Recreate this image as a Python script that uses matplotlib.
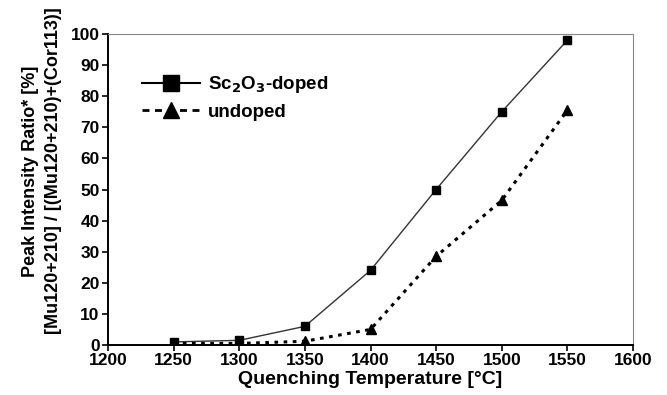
import matplotlib.pyplot as plt
from matplotlib.lines import Line2D

plt.rcParams['font.family'] = ['Liberation Sans', 'DejaVu Sans']
plt.rcParams['font.weight'] = 'bold'

#Data
temps = [1250, 1300, 1350, 1400, 1450, 1500, 1550]
sc_doped = [1.0, 1.5, 6.0, 24.0, 50.0, 75.0, 98.0]
undoped = [0.5, 0.5, 1.2, 5.0, 28.5, 46.5, 75.5]
xticks = [1200, 1250, 1300, 1350, 1400, 1450, 1500, 1550, 1600]
yticks = [0, 10, 20, 30, 40, 50, 60, 70, 80, 90, 100]

fig = plt.figure(figsize=(6.67, 3.95), dpi=100)
ax = fig.add_axes([108/667, 1-345/395, (633-108)/667, (345-34)/395])

ax.plot(temps, sc_doped, '-', color='#333333', lw=1.0, marker='s', ms=5.5,
        mfc='black', mec='black')
ax.plot(temps, undoped, linestyle=(0, (1.2, 1.8)), color='black', lw=2.2,
        marker='^', ms=6.5, mfc='black', mec='black')

ax.set_xlim(1200, 1600)
ax.set_ylim(0, 100)
ax.set_xticks(xticks)
ax.set_yticks(yticks)
ax.tick_params(direction='out', length=4, width=1.2, labelsize=12.5, pad=2)
for lab in ax.get_xticklabels() + ax.get_yticklabels():
    lab.set_fontweight('bold')

ax.spines['left'].set_linewidth(1.4)
ax.spines['bottom'].set_linewidth(1.4)
ax.spines['top'].set_color('#888888')
ax.spines['right'].set_color('#888888')

ax.set_xlabel('Quenching Temperature [°C]', fontsize=14, fontweight='bold', labelpad=2)
ax.set_ylabel('Peak Intensity Ratio* [%]\n[Mu120+210] / [(Mu120+210)+(Cor113)]',
              fontsize=13, fontweight='bold', linespacing=1.45)
ax.yaxis.set_label_coords(-0.088, 0.56)

#Legend handles drawn with dashes like the original
handles = [
    Line2D([], [], color='black', lw=1.5, marker='s', ms=11, mfc='black', mec='black'),
    Line2D([], [], color='black', lw=2.0, linestyle=(0, (2.5, 2.0)), marker='^', ms=12,
           mfc='black', mec='black'),
]
labels = [r'Sc$_\mathbf{2}$O$_\mathbf{3}$-doped', 'undoped']
leg = ax.legend(handles, labels, loc='upper left', bbox_to_anchor=(0.065, 0.87),
                frameon=False, fontsize=13.5, handlelength=3.1, handletextpad=0.4,
                labelspacing=0.45, borderpad=0, borderaxespad=0)
for t in leg.get_texts():
    t.set_fontweight('bold')

fig.savefig('out.png', dpi=100)
